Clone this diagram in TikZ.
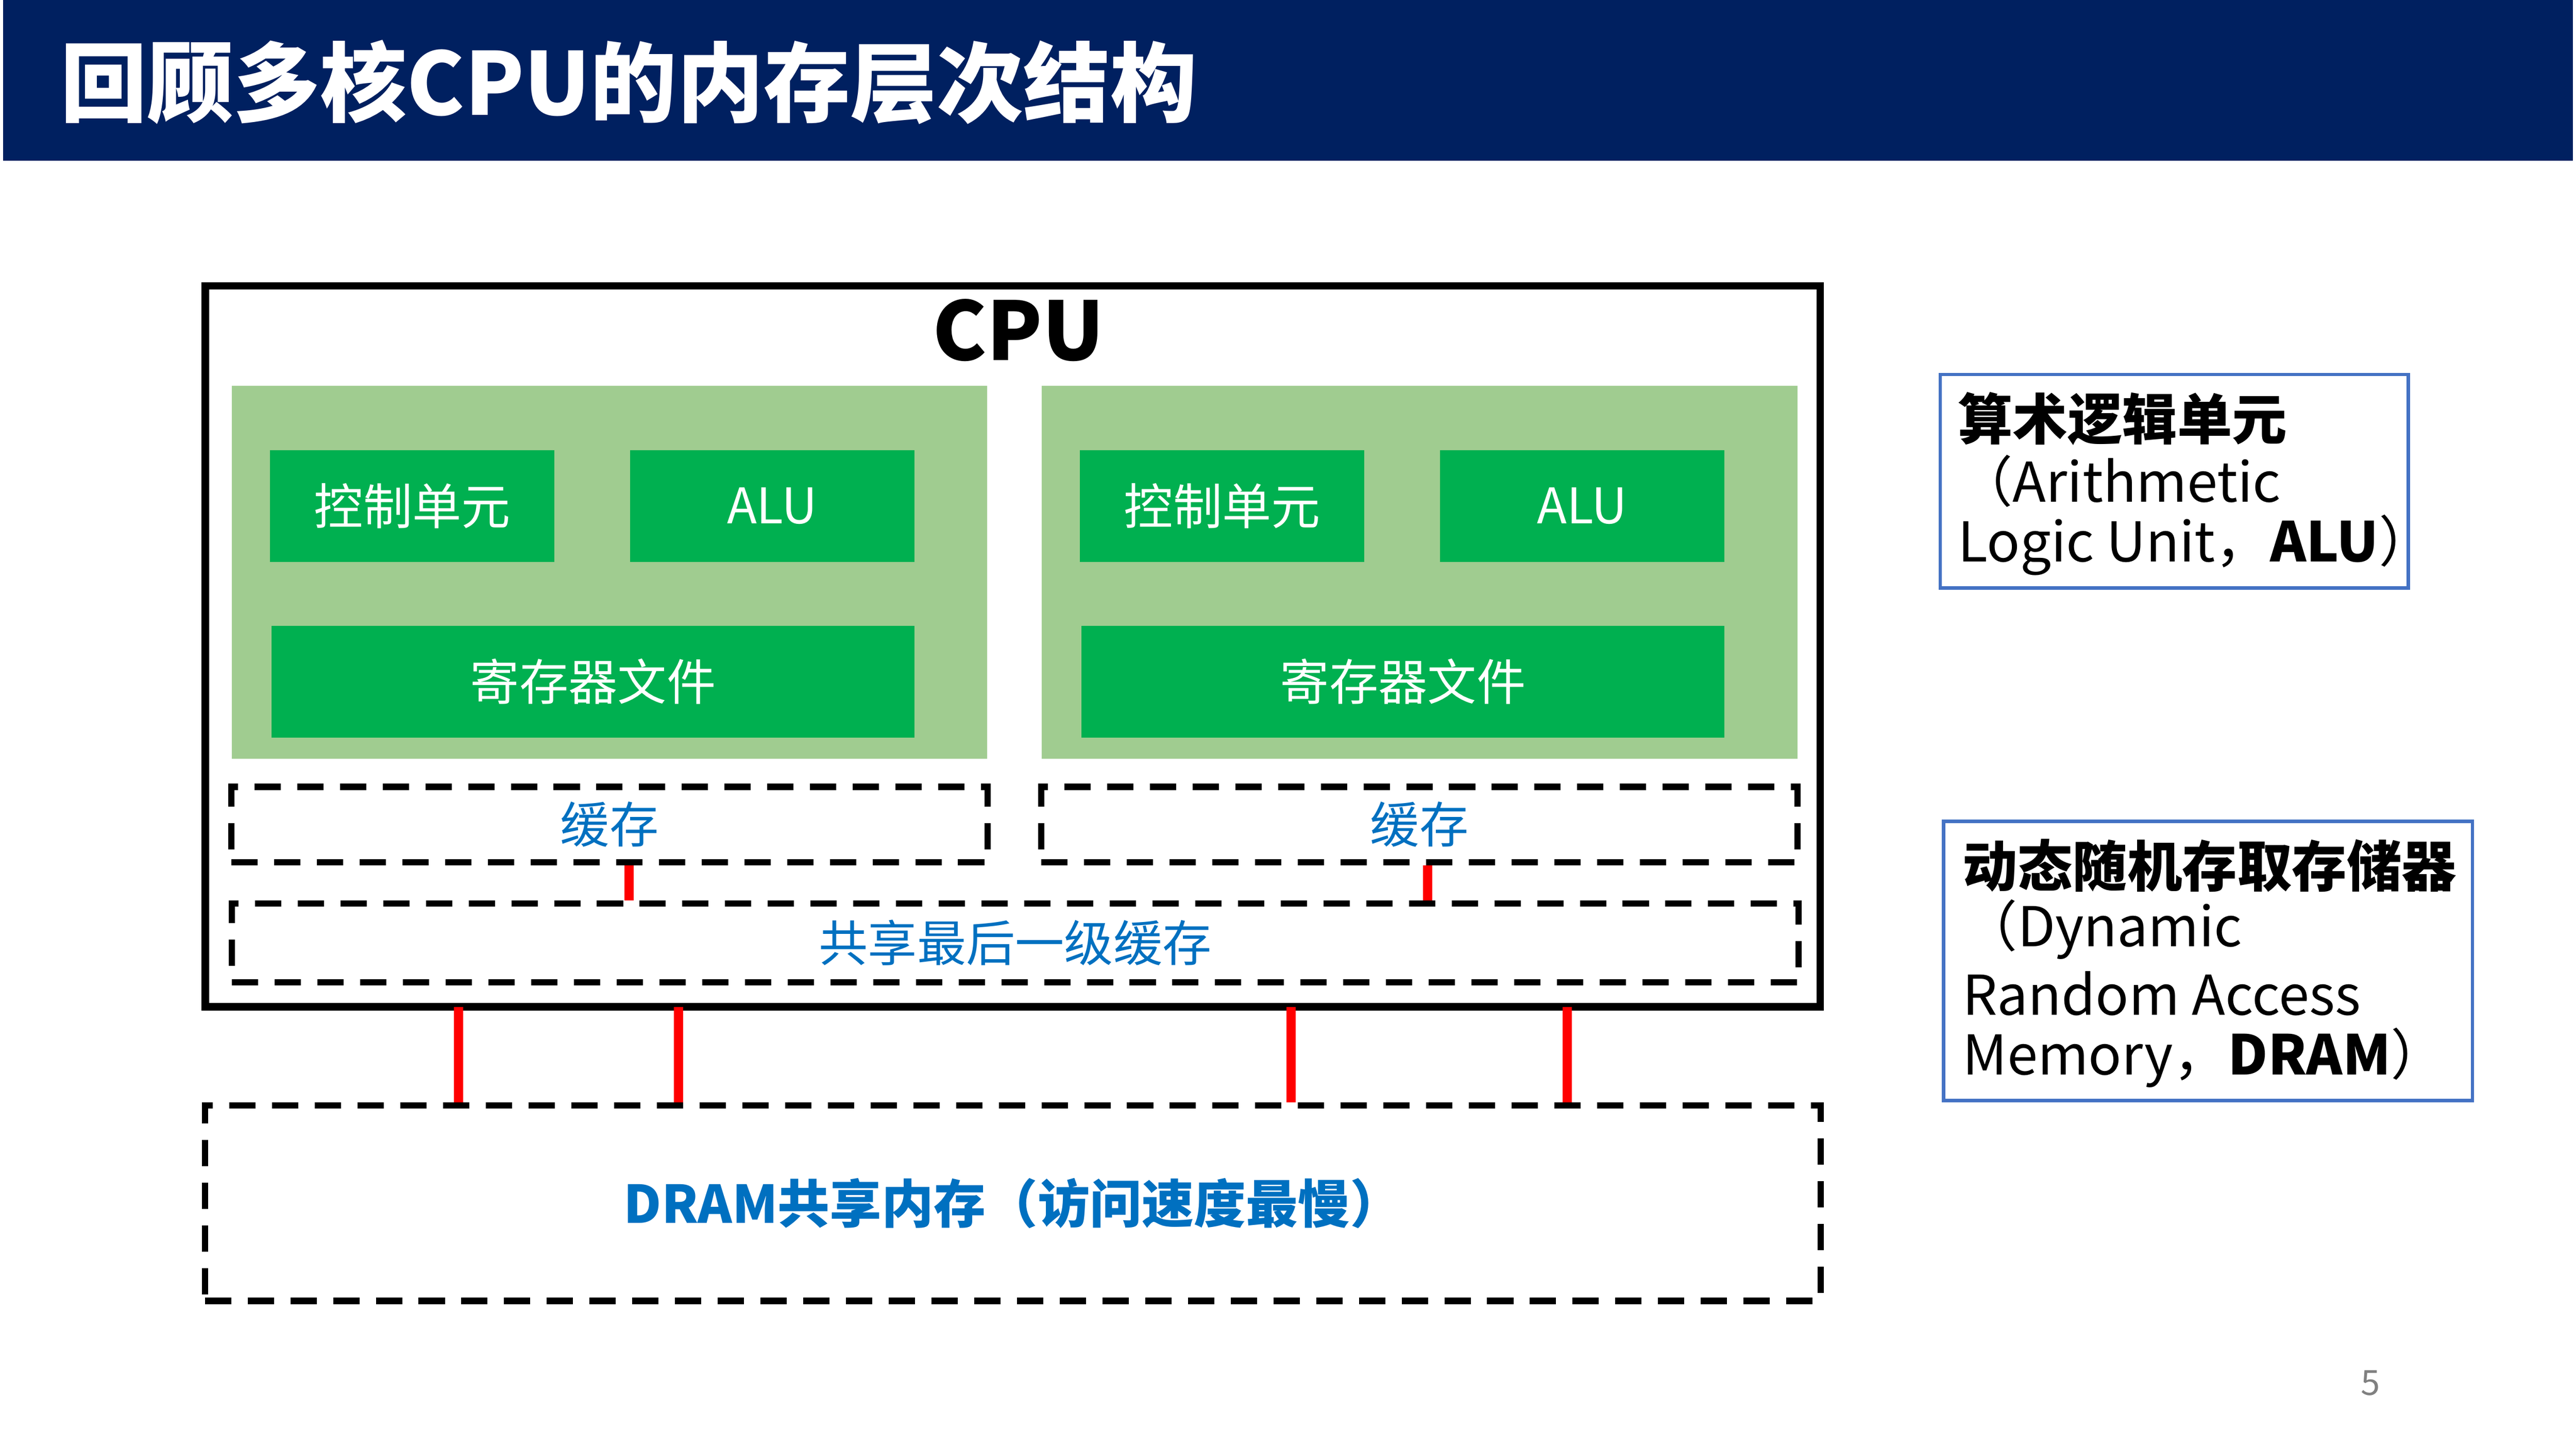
\documentclass[tikz,border=0pt]{standalone}
\usepackage{fontspec}
\setmainfont{Noto Sans CJK SC}
\begin{document}
\begin{tikzpicture}[x=0.01cm,y=-0.01cm,
  gbox/.style={fill=inG,draw=none,text=white,inner sep=0,font=\fontsize{8.5}{10}\selectfont},
  dbox/.style={draw=black,line width=1.1pt,dash pattern=on 0.16cm off 0.1cm,text=txtB,inner sep=0,font=\fontsize{8.5}{10}\selectfont},
  link/.style={draw=red,line width=1.6pt},
  info/.style={draw=infB,line width=0.6pt},
  itxt/.style={anchor=west,inner sep=0,font=\fontsize{9.5}{11}\selectfont}]
\definecolor{navy}{RGB}{0,32,96}
\definecolor{panG}{RGB}{160,204,144}
\definecolor{inG}{RGB}{0,176,80}
\definecolor{txtB}{RGB}{0,112,192}
\definecolor{infB}{RGB}{68,114,196}
\useasboundingbox (0,0) rectangle (1568,882);
\fill[navy] (2,0) rectangle (1566,98);
\node[anchor=west,text=white,font=\fontsize{15}{18}\bfseries\selectfont,inner sep=0] (title) at (36,50) {回顾多核CPU的内存层次结构};
\draw[line width=1.3pt] (125,174) rectangle (1108,613);
\node (cpu) at (125,174) {};
\node[font=\fontsize{14}{16}\bfseries\selectfont,inner sep=0] (cpulbl) at (620,201) {CPU};
\fill[panG] (141,235) rectangle (601,462);
\fill[panG] (634,235) rectangle (1094,462);
\foreach \o/\n in {0/a,493/b}{
 \node[gbox,minimum width=1.73cm,minimum height=0.68cm] (ctl\n) at (251+\o,308) {控制单元};
 \node[gbox,minimum width=1.73cm,minimum height=0.68cm] (alu\n) at (470+\o,308) {ALU};
 \node[gbox,minimum width=3.91cm,minimum height=0.68cm] (reg\n) at (361+\o,415) {寄存器文件};
 \node[dbox,minimum width=4.6cm,minimum height=0.46cm] (c\n) at (371+\o,502) {缓存};
}
\node[dbox,minimum width=9.53cm,minimum height=0.48cm] (llc) at (618,574) {共享最后一级缓存};
\node[dbox,minimum width=9.83cm,minimum height=1.19cm,font=\fontsize{9}{11}\bfseries\selectfont] (dram) at (616.5,732.5) {DRAM共享内存（访问速度最慢）};
\draw[link] (ca.south -| 383,0) -- (llc.north -| 383,0);
\draw[link] (cb.south -| 869,0) -- (llc.north -| 869,0);
\foreach \x in {279,413,786,954}{
 \coordinate (t\x) at (\x,613);
 \draw[link] (t\x) -- (dram.north -| t\x);
}
\draw[info] (1181,228) rectangle (1466,358);
\node[itxt] (i1) at (1191,255) {\textbf{算术逻辑单元}};
\node[itxt] (i2) at (1191,293) {（Arithmetic};
\node[itxt] (i3) at (1191,332) {Logic Unit，\textbf{ALU}）};
\draw[info] (1183,500) rectangle (1505,670);
\node[itxt] (j1) at (1194,527) {\textbf{动态随机存取存储器}};
\node[itxt] (j2) at (1194,566) {（Dynamic};
\node[itxt] (j3) at (1194,605) {Random Access};
\node[itxt] (j4) at (1194,644) {Memory，\textbf{DRAM}）};
\node[text=gray,font=\fontsize{6}{7}\selectfont,inner sep=0] (pg) at (1443,842) {5};
\end{tikzpicture}
\end{document}
